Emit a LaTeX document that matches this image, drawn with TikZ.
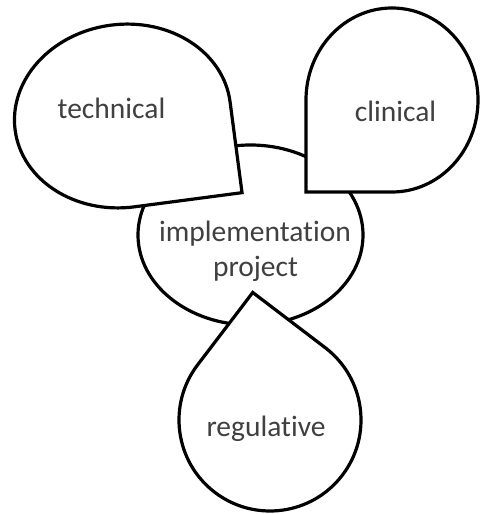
\documentclass[tikz,border=0pt]{standalone}
\usepackage{fontspec}
\setmainfont{Carlito}[RawFeature={-liga}]
\definecolor{txtgray}{HTML}{404040}
\tikzset{
  shapeline/.style={draw=black, line width=3.2pt, fill=white},
  label/.style={text=txtgray, font=\fontsize{29.5}{35}\selectfont, inner sep=0pt, anchor=base}
}
\begin{document}
\begin{tikzpicture}
\useasboundingbox (0,0) rectangle (481pt,514pt);
% central ellipse
\draw[shapeline] (250.5pt,279pt) ellipse[x radius=112.5pt, y radius=90pt];
% technical drop (tip bottom-right)
\draw[shapeline, shift={(122.6pt,398pt)}, rotate=7.5]
  (108.4pt,0pt) arc[start angle=0, end angle=270, x radius=108.4pt, y radius=91.6pt]
  -- (108.4pt,-91.6pt) -- cycle;
% clinical drop (tip bottom-left)
\draw[shapeline, shift={(392pt,414pt)}]
  (0pt,-92pt) arc[start angle=-90, end angle=180, x radius=86pt, y radius=92pt]
  -- (-86pt,-92pt) -- cycle;
% regulative drop (tip up)
\draw[shapeline, shift={(270pt,94pt)}, rotate=52.7]
  (0pt,91pt) arc[start angle=90, end angle=360, radius=91pt]
  -- (91pt,91pt) -- cycle;
% texts
\node[label] (tech) at (111.5pt,395pt) {technical};
\node[label] (clin) at (395.5pt,392.3pt) {clinical};
\node[label] (impl) at (255pt,272.3pt) {implementation};
\node[label] (proj) at (255.5pt,237.3pt) {project};
\node[label] (regu) at (266pt,77.3pt) {regulative};
\end{tikzpicture}
\end{document}
